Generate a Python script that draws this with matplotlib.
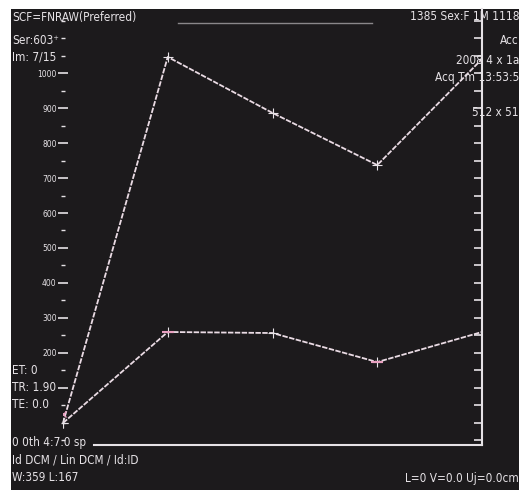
import matplotlib
matplotlib.use("Agg")
import matplotlib.pyplot as plt
from matplotlib.ticker import MultipleLocator, FixedLocator

# ---- data ----
time_pts = [0, 1, 2, 3, 4]
upper_curve = [0, 1046, 886, 737, 1040]
lower_curve = [0, 260, 257, 174, 260]
y_major = [100, 200, 300, 400, 500, 600, 700, 800, 900, 1000]
y_labels = ["", "200", "300", "400", "500", "600", "700", "800", "900", "1000"]
x_ticks = [1, 2, 3, 4]
x_labels = ["1", "2", "3", "4"]

BG = "#1c1a1c"
FG = "#e6e2e6"
LINE = "#eadbe4"
PINK = "#e8a0c0"

W, H = 519, 490
fig = plt.figure(figsize=(W / 100, H / 100), dpi=100, facecolor="white")

# dark image area (white strips on left and top)
bg = fig.add_axes([11 / W, 0, 1 - 11 / W, 1 - 9 / H])
bg.set_facecolor(BG)
bg.set_xticks([]); bg.set_yticks([])
for s in bg.spines.values():
    s.set_visible(False)
bg.set_xlim(0, 1); bg.set_ylim(0, 1)
# thin grey line at the top
bg.plot([(178 - 11) / (W - 11), (372 - 11) / (W - 11)],
        [1 - (23 - 9) / (H - 9)] * 2, color="#8a878a", lw=1)

left_px, right_px, bot_px, top_px = 63, 482, 445, 9
ax = fig.add_axes([left_px / W, 1 - bot_px / H,
                   (right_px - left_px) / W, (bot_px - top_px) / H])
ax.patch.set_alpha(0)
ax.set_xlim(0, 4)
ax.set_ylim(-63, 1183)

ax.plot(time_pts, upper_curve, color=LINE, lw=1.3, ls=(0, (3, 0.8)), clip_on=False)
ax.plot(time_pts, lower_curve, color=LINE, lw=1.3, ls=(0, (3, 0.8)), clip_on=False)
ax.plot(time_pts[:4], upper_curve[:4], ls="none", marker="+", ms=7, mec=FG, mew=0.8)
ax.plot(time_pts[:4], lower_curve[:4], ls="none", marker="+", ms=7, mec=FG, mew=0.8)
ax.plot([time_pts[1], time_pts[3]], [lower_curve[1], lower_curve[3]], ls="none",
        marker="_", ms=8, mec=PINK, mew=1.5)
ax.plot([time_pts[0]], [lower_curve[0] + 25], ls="none", marker="x", ms=4, mec=PINK, mew=1)

for side in ["top", "left"]:
    ax.spines[side].set_visible(False)
ax.spines["right"].set_color(FG)
ax.spines["right"].set_linewidth(1.5)
ax.spines["bottom"].set_color(FG)
ax.spines["bottom"].set_linewidth(1.5)
ax.spines["bottom"].set_bounds(0.3, 4)

ax.yaxis.set_major_locator(FixedLocator(y_major))
ax.set_yticklabels(y_labels)
ax.yaxis.set_minor_locator(MultipleLocator(50))
ax.tick_params(axis="y", which="major", direction="inout", length=7, width=1.2,
               colors=FG, labelsize=5.5, pad=1, left=True, right=False)
ax.tick_params(axis="y", which="minor", direction="inout", length=3, width=1,
               colors=FG, left=True, right=False)
ax.set_xticks(x_ticks)
ax.set_xticklabels(x_labels)
ax.tick_params(axis="x", direction="in", length=8, width=1, colors=FG,
               labelsize=5.5, pad=3)

# right axis ticks
ax2 = ax.twinx()
ax2.set_ylim(ax.get_ylim())
for s in ax2.spines.values():
    s.set_visible(False)
ax2.yaxis.set_major_locator(MultipleLocator(50))
ax2.tick_params(axis="y", direction="in", length=6, width=1.2, colors=FG,
                labelright=False)
ax2.set_xticks([])

# overlay texts (pixel positions)
def txt(x, y, s, size=8.5, ha="left"):
    fig.text(x / W, 1 - y / H, s, color=FG, fontsize=size, ha=ha, va="center",
             family="DejaVu Sans", fontstretch="condensed")

txt(12, 17, "SCF=FNRAW(Preferred)", 8.5)
txt(12, 40, "Ser:603\u207a", 8.5)
txt(12, 57, "Im: 7/15", 8.5)
txt(12, 370, "ET: 0")
txt(12, 387, "TR: 1.90")
txt(12, 404, "TE: 0.0")
txt(12, 442, "0 0th 4:7.0 sp")
txt(12, 460, "Id DCM / Lin DCM / Id:ID")
txt(12, 477, "W:359 L:167")

txt(519, 17, "1385 Sex:F 1M 1118", ha="right")
txt(519, 40, "Acc", ha="right")
txt(519, 60, "2008 4 x 1a", ha="right")
txt(519, 77, "Acq Tm 13:53:5", ha="right")
txt(519, 113, "512 x 51", ha="right")
txt(519, 478, "L=0 V=0.0 Uj=0.0cm", ha="right")

fig.savefig("out.png", dpi=100, facecolor="white")
